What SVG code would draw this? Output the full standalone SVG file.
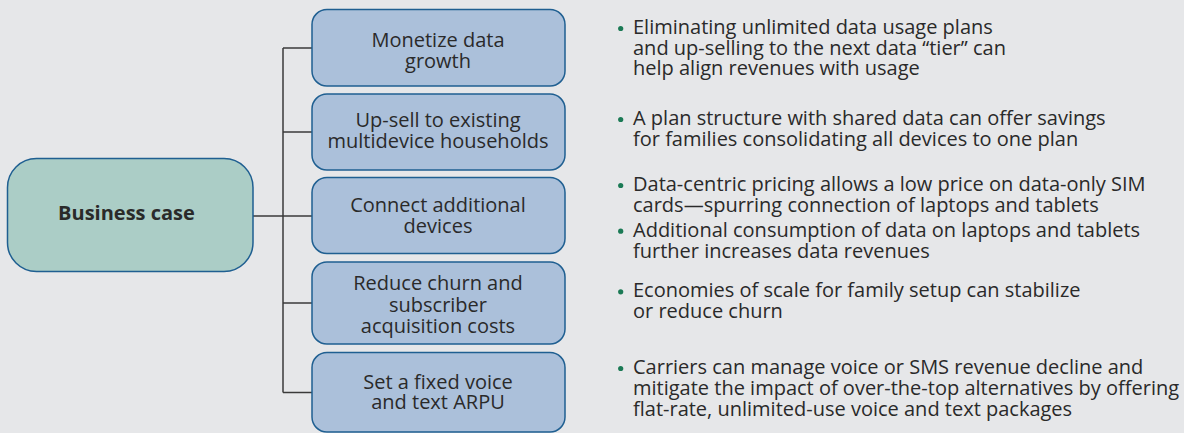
<svg xmlns="http://www.w3.org/2000/svg" width="1184" height="433" viewBox="0 0 1184 433">
  <style>
    .bg { fill: #e6e7e9; }
    .root { fill: #abcdc6; stroke: #1f5f91; stroke-width: 1.5; }
    .box { fill: #abc0da; stroke: #1f5f91; stroke-width: 1.5; }
    .lbl { font-family: "Open Sans", "Noto Sans", sans-serif; font-size: 20px; fill: #2a2a2a; text-anchor: middle; }
    .bold { font-weight: 700; }
    .txt { font-family: "Open Sans", "Noto Sans", sans-serif; font-size: 20px; fill: #2a2a2a; }
    .dot { fill: #1b7a55; }
    .wire { fill: none; stroke: #3a3a3a; stroke-width: 1.5; }
  </style>

  <rect class="bg" x="0" y="0" width="1184" height="433"/>

  <!-- connectors: root to trunk, trunk to each branch -->
  <g id="connectors">
    <path class="wire" d="M253 216 H283"/>
    <path class="wire" d="M283 48 V392.5"/>
    <path class="wire" d="M283 48 H312"/>
    <path class="wire" d="M283 132 H312"/>
    <path class="wire" d="M283 216 H312"/>
    <path class="wire" d="M283 303 H312"/>
    <path class="wire" d="M283 392.5 H312"/>
  </g>

  <g id="business-case">
    <rect class="root" x="7.5" y="158.5" width="245.5" height="113" rx="29"/>
    <text class="lbl bold" x="126.5" y="219.5">Business case</text>
  </g>

  <g id="monetize">
    <rect class="box" x="312" y="9.5" width="253" height="76.5" rx="15"/>
    <text class="lbl" x="438" y="46.5">Monetize data</text>
    <text class="lbl" x="438" y="67.5">growth</text>
  </g>

  <g id="upsell">
    <rect class="box" x="312" y="94" width="253" height="76" rx="15"/>
    <text class="lbl" x="438" y="127">Up-sell to existing</text>
    <text class="lbl" x="438" y="147.5">multidevice households</text>
  </g>

  <g id="connect">
    <rect class="box" x="312" y="177.5" width="253" height="76" rx="15"/>
    <text class="lbl" x="438" y="211.5">Connect additional</text>
    <text class="lbl" x="438" y="232.5">devices</text>
  </g>

  <g id="churn">
    <rect class="box" x="312" y="262" width="253" height="82" rx="15"/>
    <text class="lbl" x="438" y="290">Reduce churn and</text>
    <text class="lbl" x="438" y="311.5">subscriber</text>
    <text class="lbl" x="438" y="333">acquisition costs</text>
  </g>

  <g id="arpu">
    <rect class="box" x="312" y="352.5" width="253" height="79.5" rx="15"/>
    <text class="lbl" x="438" y="388.5">Set a fixed voice</text>
    <text class="lbl" x="438" y="409">and text ARPU</text>
  </g>

  <!-- bullet notes beside each branch -->
  <g id="notes">
    <circle class="dot" cx="620.7" cy="28.5" r="2.6"/>
    <text class="txt" x="633" y="34">Eliminating unlimited data usage plans</text>
    <text class="txt" x="633" y="54.5">and up-selling to the next data “tier” can</text>
    <text class="txt" x="633" y="75">help align revenues with usage</text>

    <circle class="dot" cx="620.7" cy="119.5" r="2.6"/>
    <text class="txt" x="633" y="125">A plan structure with shared data can offer savings</text>
    <text class="txt" x="633" y="145.7">for families consolidating all devices to one plan</text>

    <circle class="dot" cx="620.7" cy="185.5" r="2.6"/>
    <text class="txt" x="633" y="191">Data-centric pricing allows a low price on data-only SIM</text>
    <text class="txt" x="633" y="211.7">cards—spurring connection of laptops and tablets</text>

    <circle class="dot" cx="620.7" cy="231.2" r="2.6"/>
    <text class="txt" x="633" y="236.7">Additional consumption of data on laptops and tablets</text>
    <text class="txt" x="633" y="257.7">further increases data revenues</text>

    <circle class="dot" cx="620.7" cy="291.8" r="2.6"/>
    <text class="txt" x="633" y="297.3">Economies of scale for family setup can stabilize</text>
    <text class="txt" x="633" y="317.5">or reduce churn</text>

    <circle class="dot" cx="620.7" cy="368.5" r="2.6"/>
    <text class="txt" x="633" y="374">Carriers can manage voice or SMS revenue decline and</text>
    <text class="txt" x="633" y="395">mitigate the impact of over-the-top alternatives by offering</text>
    <text class="txt" x="633" y="415.7">flat-rate, unlimited-use voice and text packages</text>
  </g>
</svg>
